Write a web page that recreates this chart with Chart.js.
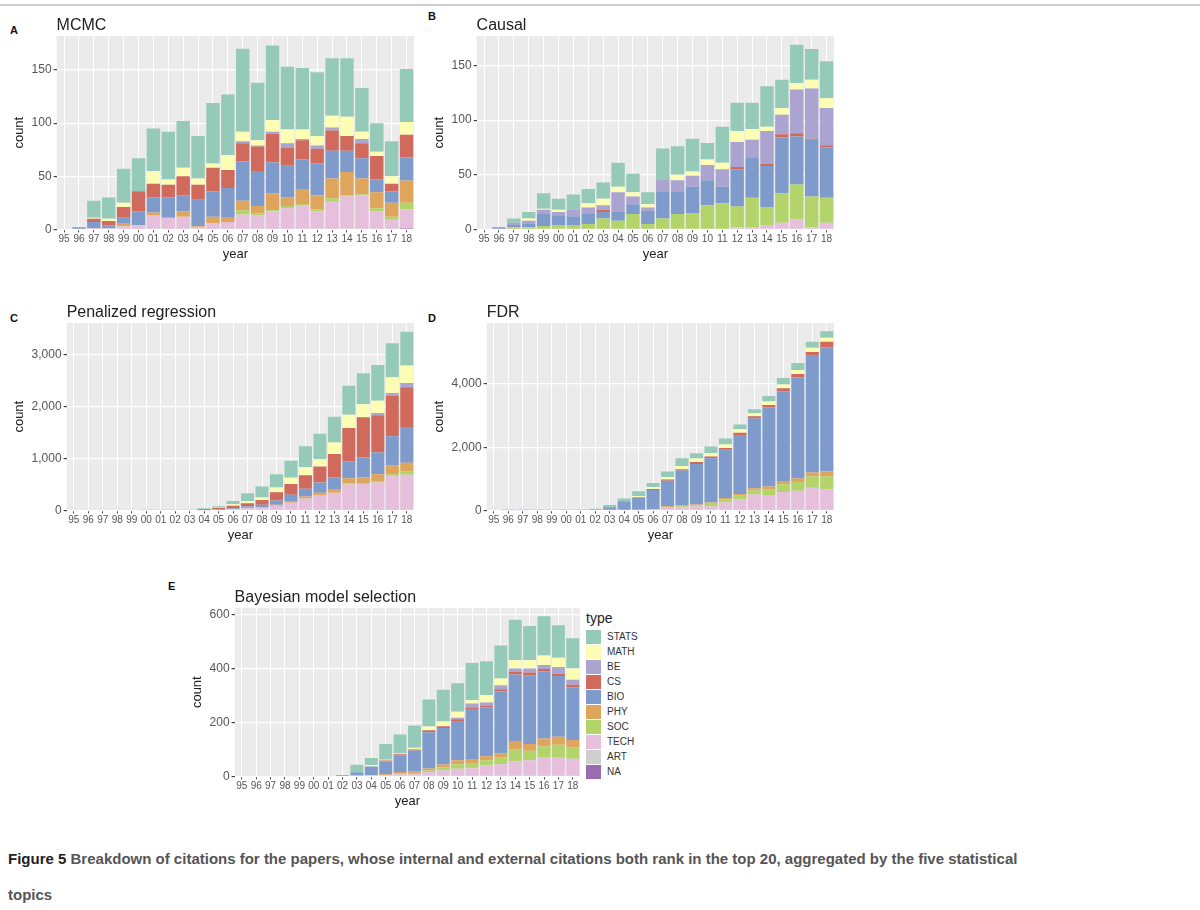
<!DOCTYPE html>
<html><head><meta charset="utf-8">
<script src="https://cdn.jsdelivr.net/npm/chart.js@4"></script>
<style>
body{margin:0;background:#fff;font-family:"Liberation Sans",Arial,sans-serif;width:1200px;height:910px;position:relative;overflow:hidden}
.topline{position:absolute;left:0;top:4px;width:1200px;height:2px;background:#ccc}
.p{position:absolute}
.lt{position:absolute;font-weight:bold;font-size:11px;color:#111}
.cap{position:absolute;left:8px;font-size:15px;font-weight:bold;color:#555}
#leg{position:absolute;left:586px;top:610px;font-size:10px;color:#333}
#leg .t{font-size:14px;color:#222;margin-bottom:3px}
#leg .r{display:flex;align-items:center;height:15px}
#leg .b{width:15px;height:14px;margin-right:6px}
</style></head><body>
<div class="topline"></div>
<div class="lt" style="left:10px;top:24px">A</div>
<div class="lt" style="left:428px;top:10px">B</div>
<div class="lt" style="left:10px;top:312px">C</div>
<div class="lt" style="left:428px;top:312px">D</div>
<div class="lt" style="left:168px;top:580px">E</div>
<div class="p" style="left:0;top:8px;width:420px;height:258px"><canvas id="cA"></canvas></div>
<div class="p" style="left:420px;top:8px;width:420px;height:258px"><canvas id="cB"></canvas></div>
<div class="p" style="left:0;top:295px;width:420px;height:252px"><canvas id="cC"></canvas></div>
<div class="p" style="left:420px;top:295px;width:420px;height:252px"><canvas id="cD"></canvas></div>
<div class="p" style="left:178px;top:580px;width:408px;height:233px"><canvas id="cE"></canvas></div>
<div id="leg"></div>
<div class="cap" style="top:850px"><span style="color:#222">Figure 5</span> Breakdown of citations for the papers, whose internal and external citations both rank in the top 20, aggregated by the five statistical</div>
<div class="cap" style="top:886px">topics</div>
<script>
const years=["95","96","97","98","99","00","01","02","03","04","05","06","07","08","09","10","11","12","13","14","15","16","17","18"];
const types=["NA","ART","TECH","SOC","PHY","BIO","CS","BE","MATH","STATS"];
const colors={NA:"#9a6bb0",ART:"#cfcfcf",TECH:"#e6bfdc",SOC:"#b3d46a",PHY:"#dfa55c",BIO:"#7f9bcb",CS:"#cf6a5c",BE:"#aba4d0",MATH:"#fdfdb4",STATS:"#96cab8"};
const Z=()=>new Array(24).fill(0);
// A: MCMC
const mcmc_TECH=[0,0,1,1,3,4,13,11,12,2,6,7,14,13,17,20,23,17,26,31,32,17,9,18];
const mcmc_SOC=[0,0,0,0,0,0,0,0,0,0,0,0,4,2,1,2,1,2,3,1,1,3,3,6];
const mcmc_PHY=[0,0,0,0,3,0,3,0,5,1,6,4,9,7,16,8,14,13,19,22,15,15,13,21];
const mcmc_BIO=[0,2,6,3,5,13,14,19,15,25,24,28,37,33,29,30,28,30,26,20,19,12,11,22];
const mcmc_CS=[0,0,3,4,10,19,13,12,18,14,22,17,17,23,27,17,18,14,19,14,14,22,7,21];
const mcmc_BE=[0,0,0,0,0,0,0,0,0,0,0,0,2,1,2,4,1,3,3,0,4,0,0,0];
const mcmc_MATH=[0,0,1,2,4,0,12,5,8,6,4,14,9,5,11,13,9,9,11,18,7,4,7,12];
const mcmc_STATS=[0,0,16,20,32,31,40,45,44,40,57,57,78,54,70,59,58,60,54,55,41,27,33,50];
const mcmc_NA=[0,0,0,0,0,0,0,0,0,0,0,0,0,0,0,0,0,0,0,0,0,0,0,1];
// B: Causal
const causal_TECH=[0,0,0,0,0,0,0,0,0,0,0,0,0,0,0,0,0,2,2,4,6,9,2,6];
const causal_SOC=[0,0,2,2,3,4,4,5,10,8,14,5,10,14,15,22,24,19,27,16,27,32,28,23];
const causal_BIO=[0,2,2,3,11,9,8,9,6,8,9,12,25,21,24,23,15,34,37,38,51,44,52,46];
const causal_CS=[0,0,0,0,0,0,0,0,2,0,0,0,0,0,0,0,0,2,0,2,3,3,1,2];
const causal_BE=[0,0,2,3,4,3,6,6,4,18,7,3,11,10,10,14,16,23,16,30,18,40,46,34];
const causal_MATH=[0,0,0,2,1,2,0,4,6,5,4,3,0,5,4,5,6,10,10,4,6,6,8,9];
const causal_STATS=[0,0,4,6,14,10,14,13,15,22,17,11,28,26,30,15,33,26,24,37,26,35,28,34];
// C: Penalized regression
const pen_TECH=[0,0,0,0,0,0,0,0,0,5,10,20,40,50,90,150,230,290,340,500,510,540,660,690];
const pen_SOC=[0,0,0,0,0,0,0,0,0,0,0,0,0,0,0,0,0,0,0,20,20,30,40,60];
const pen_PHY=[0,0,0,0,0,0,0,0,0,0,0,0,10,10,20,30,40,50,60,100,110,130,170,170];
const pen_BIO=[0,0,0,0,0,0,0,0,0,0,10,20,30,50,80,120,150,200,240,330,380,420,560,690];
const pen_CS=[0,0,0,0,0,0,0,0,0,20,30,50,60,90,160,210,260,310,450,640,780,720,780,770];
const pen_BE=[0,0,0,0,0,0,0,0,0,0,0,0,0,0,0,0,0,0,0,0,0,40,60,80];
const pen_MATH=[0,0,0,0,0,0,0,0,0,0,10,30,40,50,90,120,160,140,220,260,250,240,300,340];
const pen_STATS=[0,0,0,0,0,5,8,6,6,15,20,60,150,210,260,330,400,490,500,560,600,690,660,650];
// D: FDR
const fdr_TECH=[0,0,0,0,0,0,0,0,0,20,20,30,80,100,120,130,250,350,500,490,580,620,720,660];
const fdr_SOC=[0,0,0,0,0,0,0,0,0,0,0,10,30,30,40,80,100,120,130,190,250,280,350,410];
const fdr_PHY=[0,0,0,0,0,0,0,0,0,0,0,0,20,30,30,40,40,50,70,80,100,110,130,170];
const fdr_BIO=[0,5,5,10,10,15,25,40,100,270,400,610,810,1100,1280,1400,1530,1870,2210,2510,2840,3200,3700,3920];
const fdr_CS=[0,0,0,0,0,0,0,0,0,0,0,30,40,40,60,60,60,70,70,70,100,110,120,180];
const fdr_MATH=[0,0,0,0,0,0,0,0,0,0,40,60,80,110,110,110,110,110,100,110,120,130,130,130];
const fdr_STATS=[0,0,0,0,0,0,5,10,70,90,150,130,170,240,170,200,190,150,120,170,200,220,190,200];
// E: Bayesian model selection
const bms_TECH=[0,0,0,0,0,0,0,0,3,5,5,8,8,15,22,28,30,40,45,55,60,72,72,65];
const bms_SOC=[0,0,0,0,0,0,0,0,0,0,0,5,5,7,12,17,17,20,25,45,35,40,45,42];
const bms_PHY=[0,0,0,0,0,0,0,0,0,0,3,3,5,7,10,15,15,15,15,28,25,28,30,28];
const bms_BIO=[0,0,0,0,0,0,0,5,12,32,47,62,78,135,135,145,185,180,230,250,255,250,225,195];
const bms_CS=[0,0,0,0,0,0,0,0,0,0,4,4,4,7,7,7,8,7,8,10,10,8,8,10];
const bms_BE=[0,0,0,0,0,0,0,0,0,0,0,0,0,0,0,5,15,12,15,12,15,15,25,18];
const bms_MATH=[0,0,0,0,0,0,0,0,0,5,3,3,6,14,17,23,12,28,25,30,30,35,35,42];
const bms_STATS=[0,0,0,0,0,0,0,0,28,26,58,70,83,100,118,105,138,125,122,150,127,145,120,112];
// y tick labels per panel
const ticksA=[0,50,100,150], ticksB=[0,50,100,150], ticksC=[0,1000,2000,3000], ticksD=[0,2000,4000], ticksE=[0,200,400,600];

const panels={
 cA:{title:"MCMC",max:182,ticks:ticksA,d:{NA:mcmc_NA,TECH:mcmc_TECH,SOC:mcmc_SOC,PHY:mcmc_PHY,BIO:mcmc_BIO,CS:mcmc_CS,BE:mcmc_BE,MATH:mcmc_MATH,STATS:mcmc_STATS}},
 cB:{title:"Causal",max:177,ticks:ticksB,d:{TECH:causal_TECH,SOC:causal_SOC,BIO:causal_BIO,CS:causal_CS,BE:causal_BE,MATH:causal_MATH,STATS:causal_STATS}},
 cC:{title:"Penalized regression",max:3620,ticks:ticksC,d:{TECH:pen_TECH,SOC:pen_SOC,PHY:pen_PHY,BIO:pen_BIO,CS:pen_CS,BE:pen_BE,MATH:pen_MATH,STATS:pen_STATS}},
 cD:{title:"FDR",max:5935,ticks:ticksD,d:{TECH:fdr_TECH,SOC:fdr_SOC,PHY:fdr_PHY,BIO:fdr_BIO,CS:fdr_CS,MATH:fdr_MATH,STATS:fdr_STATS}},
 cE:{title:"Bayesian model selection",max:624,ticks:ticksE,d:{TECH:bms_TECH,SOC:bms_SOC,PHY:bms_PHY,BIO:bms_BIO,CS:bms_CS,BE:bms_BE,MATH:bms_MATH,STATS:bms_STATS}}
};
const F="'Liberation Sans',Arial,sans-serif";
const bg={id:"bg",beforeDraw(c){const a=c.chartArea,x=c.ctx;x.save();x.fillStyle="#ebebeb";x.fillRect(a.left,a.top,a.right-a.left,a.bottom-a.top);
  x.fillStyle="#222";x.font="16px "+F;x.textBaseline="alphabetic";x.fillText(c.options.plugins.ttl.text,a.left,a.top-6);x.restore();}};
for(const id in panels){
 const p=panels[id];
 const ds=types.map(t=>({label:t,data:p.d[t]||Z(),backgroundColor:colors[t],borderWidth:0,categoryPercentage:1,barPercentage:0.9}));
 new Chart(document.getElementById(id),{type:"bar",data:{labels:years,datasets:ds},plugins:[bg],
  options:{responsive:true,maintainAspectRatio:false,animation:false,
   layout:{padding:{left:8,right:6,top:28,bottom:0}},
   plugins:{tooltip:{enabled:false},legend:{display:false},ttl:{text:p.title}},
   scales:{
    x:{stacked:true,grid:{color:"#fff",lineWidth:1,offset:false,tickColor:"#444",tickLength:3},border:{display:false},
       ticks:{color:"#555",font:{family:F,size:10},maxRotation:0,autoSkip:false,padding:1},
       title:{display:true,text:"year",color:"#222",font:{family:F,size:13},padding:{top:0}}},
    y:{stacked:true,min:0,max:p.max,border:{display:false},
       afterBuildTicks:s=>{s.ticks=p.ticks.map(v=>({value:v}));},
       grid:{color:"#fff",lineWidth:1.2,tickColor:"#444",tickLength:3},
       ticks:{color:"#555",font:{family:F,size:12},padding:2},
       title:{display:true,text:"count",color:"#222",font:{family:F,size:13},padding:{bottom:2}}}
   }}});
}
const leg=document.getElementById("leg");
let h='<div class="t">type</div>';
for(const t of types.slice().reverse()) h+=`<div class="r"><div class="b" style="background:${colors[t]}"></div>${t}</div>`;
leg.innerHTML=h;
</script></body></html>
